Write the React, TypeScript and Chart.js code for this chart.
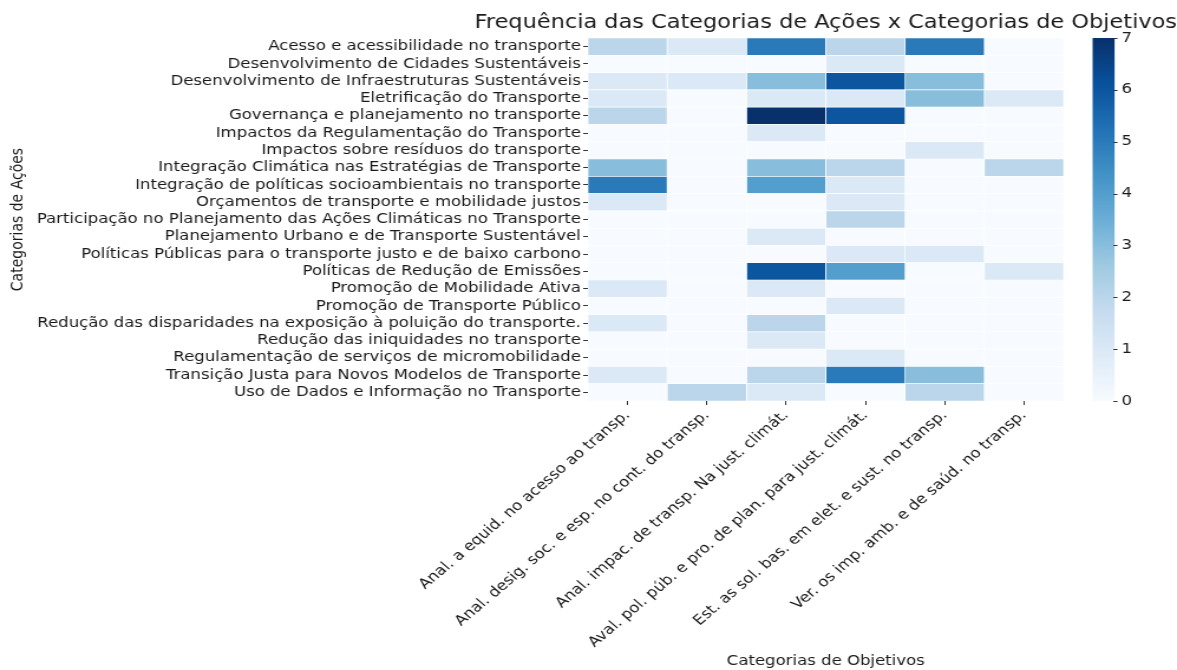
import React, { useEffect, useRef } from "react";
import { Chart, registerables } from "chart.js";

Chart.register(...registerables);

const actionCategories = [
  "Acesso e acessibilidade no transporte",
  "Desenvolvimento de Cidades Sustentáveis",
  "Desenvolvimento de Infraestruturas Sustentáveis",
  "Eletrificação do Transporte",
  "Governança e planejamento no transporte",
  "Impactos da Regulamentação do Transporte",
  "Impactos sobre resíduos do transporte",
  "Integração Climática nas Estratégias de Transporte",
  "Integração de políticas socioambientais no transporte",
  "Orçamentos de transporte e mobilidade justos",
  "Participação no Planejamento das Ações Climáticas no Transporte",
  "Planejamento Urbano e de Transporte Sustentável",
  "Políticas Públicas para o transporte justo e de baixo carbono",
  "Políticas de Redução de Emissões",
  "Promoção de Mobilidade Ativa",
  "Promoção de Transporte Público",
  "Redução das disparidades na exposição à poluição do transporte.",
  "Redução das iniquidades no transporte",
  "Regulamentação de serviços de micromobilidade",
  "Transição Justa para Novos Modelos de Transporte",
  "Uso de Dados e Informação no Transporte",
];

const objectiveCategories = [
  "Anal. a equid. no acesso ao transp.",
  "Anal. desig. soc. e esp. no cont. do transp.",
  "Anal. impac. de transp. Na just. climát.",
  "Aval. pol. púb. e pro. de plan. para just. climát.",
  "Est. as sol. bas. em elet. e sust. no transp.",
  "Ver. os imp. amb. e de saúd. no transp.",
];

// one array per objective column, values for each action row (top to bottom)
const anaEquidAcesso = [2, 0, 1, 1, 2, 0, 0, 3, 5, 1, 0, 0, 0, 0, 1, 0, 1, 0, 0, 1, 0];
const anaDesigSoc = [1, 0, 1, 0, 0, 0, 0, 0, 0, 0, 0, 0, 0, 0, 0, 0, 0, 0, 0, 0, 2];
const anaImpacJust = [5, 0, 3, 1, 7, 1, 0, 3, 4, 0, 0, 1, 0, 6, 1, 0, 2, 1, 0, 2, 1];
const avalPolPub = [2, 1, 6, 1, 6, 0, 0, 2, 1, 1, 2, 0, 1, 4, 0, 1, 0, 0, 1, 5, 0];
const estSolElet = [5, 0, 3, 3, 0, 0, 1, 0, 0, 0, 0, 0, 1, 0, 0, 0, 0, 0, 0, 3, 2];
const verImpAmb = [0, 0, 0, 1, 0, 0, 0, 2, 0, 0, 0, 0, 0, 1, 0, 0, 0, 0, 0, 0, 0];

const columnValues = [anaEquidAcesso, anaDesigSoc, anaImpacJust, avalPolPub, estSolElet, verImpAmb];

const colorbarTicks = [0, 1, 2, 3, 4, 5, 6, 7];
const VMAX = 7;

const BLUES = ["#f7fbff", "#deebf7", "#c6dbef", "#9ecae1", "#6baed6", "#4292c6", "#2171b5", "#08519c", "#08306b"];

function hexToRgb(h: string) {
  return [parseInt(h.slice(1, 3), 16), parseInt(h.slice(3, 5), 16), parseInt(h.slice(5, 7), 16)];
}

function blues(t: number) {
  const c = Math.max(0, Math.min(1, t));
  const p = c * (BLUES.length - 1);
  const i = Math.min(Math.floor(p), BLUES.length - 2);
  const f = p - i;
  const a = hexToRgb(BLUES[i]);
  const b = hexToRgb(BLUES[i + 1]);
  const r = a.map((v, k) => Math.round(v + (b[k] - v) * f));
  return `rgb(${r[0]},${r[1]},${r[2]})`;
}

const FONT = "'DejaVu Sans', sans-serif";
const TEXT = "#1a1a1a";
// the reference is horizontally stretched: render narrower, display at full width
const RENDER_W = 997;
const DISPLAY_W = 1177;
const H = 670;

function noPadding(s: any) {
  s.paddingTop = 0;
  s.paddingBottom = 0;
  s.paddingLeft = 0;
  s.paddingRight = 0;
}

export default function App() {
  const ref = useRef<HTMLCanvasElement | null>(null);

  useEffect(() => {
    document.body.style.margin = "0";
    const canvas = ref.current;
    if (!canvas) return;

    const colorbarPlugin = {
      id: "colorbarPlugin",
      afterDraw(chart: any) {
        const { ctx, chartArea } = chart;
        const cb = chart.scales.cb;
        const y0 = cb.getPixelForValue(0);
        const y1 = cb.getPixelForValue(VMAX);
        const x0 = chartArea.right + 24.5;
        const w = 18.6;
        ctx.save();
        const grad = ctx.createLinearGradient(0, y0, 0, y1);
        for (let k = 0; k < BLUES.length; k++) {
          grad.addColorStop(k / (BLUES.length - 1), BLUES[k]);
        }
        ctx.fillStyle = grad;
        ctx.fillRect(x0, y1, w, y0 - y1);
        ctx.strokeStyle = "#333";
        ctx.lineWidth = 1;
        colorbarTicks.forEach((v) => {
          const y = Math.round(cb.getPixelForValue(v)) + 0.5;
          ctx.beginPath();
          ctx.moveTo(x0 + w - 1, y);
          ctx.lineTo(x0 + w + 2.5, y);
          ctx.stroke();
        });
        ctx.fillStyle = TEXT;
        ctx.font = `19px ${FONT}`;
        ctx.textAlign = "center";
        ctx.textBaseline = "middle";
        ctx.fillText(
          "Frequência das Categorias de Ações x Categorias de Objetivos",
          (chartArea.left + chartArea.right) / 2,
          23
        );
        ctx.restore();
      },
    };

    const chart = new Chart(canvas, {
      type: "bar",
      data: {
        labels: actionCategories,
        datasets: objectiveCategories.map((obj, j) => ({
          label: obj,
          data: columnValues[j].map(() => [j, j + 1]),
          backgroundColor: columnValues[j].map((v) => blues(v / VMAX)),
          borderColor: "#ffffff",
          borderWidth: 0.7,
          borderSkipped: false,
          barPercentage: 1,
          categoryPercentage: 1,
          grouped: false,
        })),
      },
      options: {
        indexAxis: "y",
        animation: false,
        responsive: false,
        maintainAspectRatio: false,
        layout: { padding: { top: 38, left: 0, right: 0, bottom: 0 } },
        plugins: {
          legend: { display: false },
          tooltip: { enabled: false },
          title: { display: false },
        },
        scales: {
          x: {
            type: "linear",
            min: 0,
            max: 6,
            offset: false,
            afterBuildTicks: (s: any) => {
              s.ticks = objectiveCategories.map((_, i) => ({ value: i + 0.5 }));
            },
            ticks: {
              autoSkip: false,
              minRotation: 45,
              maxRotation: 45,
              padding: 2,
              color: TEXT,
              font: { family: FONT, size: 14 },
              callback: (_v: any, i: number) => objectiveCategories[i],
            },
            grid: { display: true, offset: false, drawOnChartArea: false, drawTicks: true, tickLength: 4, color: "#333" },
            border: { display: false },
            title: {
              display: true,
              text: "Categorias de Objetivos",
              color: TEXT,
              font: { family: FONT, size: 14 },
              padding: { top: 0, bottom: 0 },
            },
            afterFit: (s: any) => {
              s.height = 269;
              noPadding(s);
            },
          },
          y: {
            type: "category",
            position: "left",
            ticks: {
              autoSkip: false,
              padding: 2,
              color: TEXT,
              font: { family: FONT, size: 14 },
            },
            grid: { display: true, offset: false, drawOnChartArea: false, drawTicks: true, tickLength: 4, color: "#333" },
            border: { display: false },
            title: {
              display: true,
              text: "Categorias de Ações",
              color: TEXT,
              font: { family: FONT, size: 14 },
              padding: { top: 7, bottom: 0 },
            },
            afterFit: (s: any) => {
              s.width = 498;
              noPadding(s);
            },
          },
          cb: {
            type: "linear",
            axis: "y",
            position: "right",
            min: 0,
            max: VMAX,
            offset: false,
            afterBuildTicks: (s: any) => {
              s.ticks = colorbarTicks.map((v) => ({ value: v }));
            },
            ticks: {
              padding: 49,
              color: TEXT,
              font: { family: FONT, size: 14 },
            },
            grid: { display: false, offset: false, drawTicks: false },
            border: { display: false },
            afterFit: (s: any) => {
              s.width = RENDER_W - 901;
              noPadding(s);
            },
          },
        },
      } as any,
      plugins: [colorbarPlugin],
    });

    return () => chart.destroy();
  }, []);

  return (
    <div style={{ width: DISPLAY_W, height: H, background: "#fff", overflow: "hidden" }}>
      <canvas
        ref={ref}
        width={RENDER_W}
        height={H}
        style={{ display: "block", width: `${DISPLAY_W}px`, height: `${H}px` }}
      />
    </div>
  );
}
